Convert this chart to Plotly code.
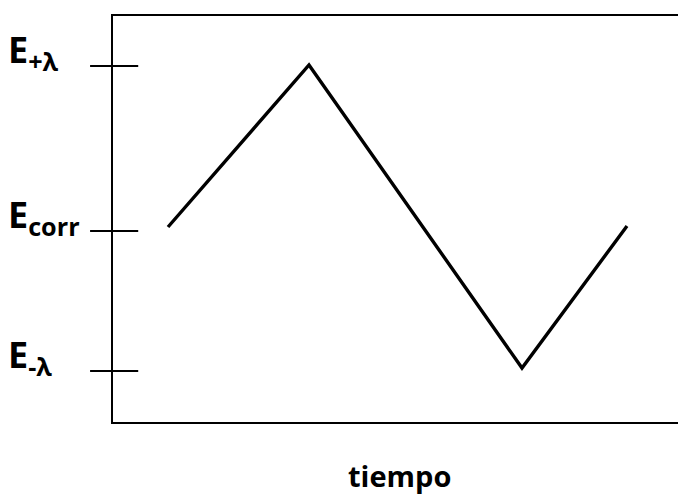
import plotly.graph_objects as go

# time (arbitrary units) and potential (arbitrary units, E_corr = 0)
tiempo = [55, 196, 409, 514]
potencial = [4, 166, -137, 5]

tick_vals = [165, 0, -140]
tick_main = ["E", "E", "E"]
tick_sub = ["+λ", "corr", "-λ"]

x_range = [0, 573]
y_range = [-191, 215]

fig = go.Figure()
fig.add_trace(go.Scatter(x=tiempo, y=potencial, mode="lines",
                         line=dict(color="black", width=3.4),
                         hoverinfo="skip", showlegend=False))

FONT = "Open Sans"
for v, m, s in zip(tick_vals, tick_main, tick_sub):
    fig.add_shape(type="line", xref="paper", yref="y",
                  x0=-0.040, x1=0.044, y0=v, y1=v,
                  line=dict(color="black", width=2))
    fig.add_annotation(xref="paper", yref="y", x=-0.186, y=v,
                       xanchor="left", yanchor="bottom", yshift=-14,
                       text="<b>%s</b><sub><b>%s</b></sub>" % (m, s),
                       showarrow=False,
                       font=dict(family=FONT, size=36, color="black"))

fig.add_annotation(xref="paper", yref="paper", x=0.5, y=0, yshift=-32,
                   xanchor="center", yanchor="top",
                   text="<b>tiempo</b>", showarrow=False,
                   font=dict(family=FONT, size=29, color="black"))

fig.update_xaxes(range=x_range, showgrid=False, zeroline=False,
                 showticklabels=False, ticks="", showline=True,
                 linecolor="black", linewidth=2, mirror=True)
fig.update_yaxes(range=y_range, showgrid=False, zeroline=False,
                 showticklabels=False, ticks="", showline=True,
                 linecolor="black", linewidth=2, mirror=False)

# page body has an 8px margin, so the figure is sized to fit inside it
fig.update_layout(width=678, height=488,
                  margin=dict(l=105, r=0, t=8, b=74),
                  paper_bgcolor="white", plot_bgcolor="white")

fig.write_html("out.html")
